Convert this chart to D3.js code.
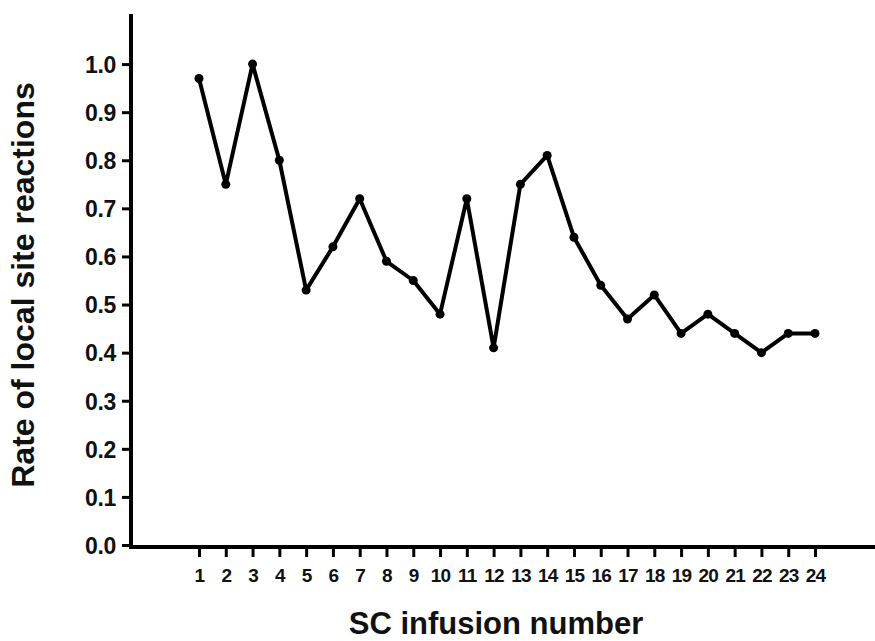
<!DOCTYPE html>
<html>
<head>
<meta charset="utf-8">
<script src="https://cdn.jsdelivr.net/npm/d3@7"></script>
<style>
body { margin: 0; background: #fff; }
svg { display: block; font-family: "Liberation Sans", Arial, sans-serif; }
</style>
</head>
<body>
<div class="container"></div>
<script>
const wd = 875
const ht = 641

// infusion number and rate
const infusions = d3.range(1, 25)
const rates = [0.97, 0.75, 1.0, 0.80, 0.53, 0.62, 0.72, 0.59, 0.55, 0.48,
               0.72, 0.41, 0.75, 0.81, 0.64, 0.54, 0.47, 0.52, 0.44, 0.48,
               0.44, 0.40, 0.44, 0.44]
const yTicks = [0, 0.1, 0.2, 0.3, 0.4, 0.5, 0.6, 0.7, 0.8, 0.9, 1.0]

const svgC = d3.select(".container")
  .append("svg")
  .attr("width", wd)
  .attr("height", ht)

const axX = 131   // y axis position
const axY = 547   // x axis position

const x = d3.scaleLinear().domain([1, 24]).range([199, 815])
const y = d3.scaleLinear().domain([0, 1.1]).range([545, 16])

// y axis
const yAxis = svgC.append("g")
  .attr("transform", `translate(${axX},0)`)
  .call(d3.axisLeft(y).tickValues(yTicks).tickFormat(d3.format(".1f")).tickSize(9).tickSizeOuter(0))
yAxis.select(".domain").remove()
yAxis.selectAll(".tick line").attr("stroke", "#000").attr("stroke-width", 3)
yAxis.selectAll(".tick text")
  .attr("x", -15)
  .attr("dy", "0.36em")
  .attr("font-size", 23)
  .attr("font-weight", "bold")
  .attr("letter-spacing", -0.3)
  .attr("fill", "#111")

svgC.append("line")
  .attr("x1", axX).attr("x2", axX)
  .attr("y1", 14).attr("y2", axY + 2)
  .attr("stroke", "#000").attr("stroke-width", 4)

// x axis
const xAxis = svgC.append("g")
  .attr("transform", `translate(0,${axY})`)
  .call(d3.axisBottom(x).tickValues(infusions).tickSize(10).tickSizeOuter(0))
xAxis.select(".domain").remove()
xAxis.selectAll(".tick line").attr("stroke", "#000").attr("stroke-width", 3)
xAxis.selectAll(".tick text")
  .attr("y", 22)
  .attr("font-size", 19)
  .attr("font-weight", "bold")
  .attr("letter-spacing", -0.8)
  .attr("fill", "#111")

svgC.append("line")
  .attr("x1", axX - 2).attr("x2", wd)
  .attr("y1", axY).attr("y2", axY)
  .attr("stroke", "#000").attr("stroke-width", 4)

// the line and its dots
const pts = infusions.map((d, i) => [d, rates[i]])

const lineFunc = d3.line()
  .x(d => x(d[0]))
  .y(d => y(d[1]))

svgC.append("path")
  .attr("d", lineFunc(pts))
  .attr("fill", "none")
  .attr("stroke", "#000")
  .attr("stroke-width", 4)
  .attr("stroke-linejoin", "round")

svgC.selectAll("circle")
  .data(pts)
  .enter()
  .append("circle")
  .attr("cx", d => x(d[0]))
  .attr("cy", d => y(d[1]))
  .attr("r", 4.5)
  .attr("fill", "#000")

// axis titles
svgC.append("text")
  .attr("transform", "translate(34,285) rotate(-90)")
  .attr("text-anchor", "middle")
  .attr("font-size", 32)
  .attr("font-weight", "bold")
  .attr("fill", "#111")
  .text("Rate of local site reactions")

svgC.append("text")
  .attr("x", 496)
  .attr("y", 634)
  .attr("text-anchor", "middle")
  .attr("font-size", 31)
  .attr("font-weight", "bold")
  .attr("fill", "#111")
  .text("SC infusion number")
</script>
</body>
</html>
